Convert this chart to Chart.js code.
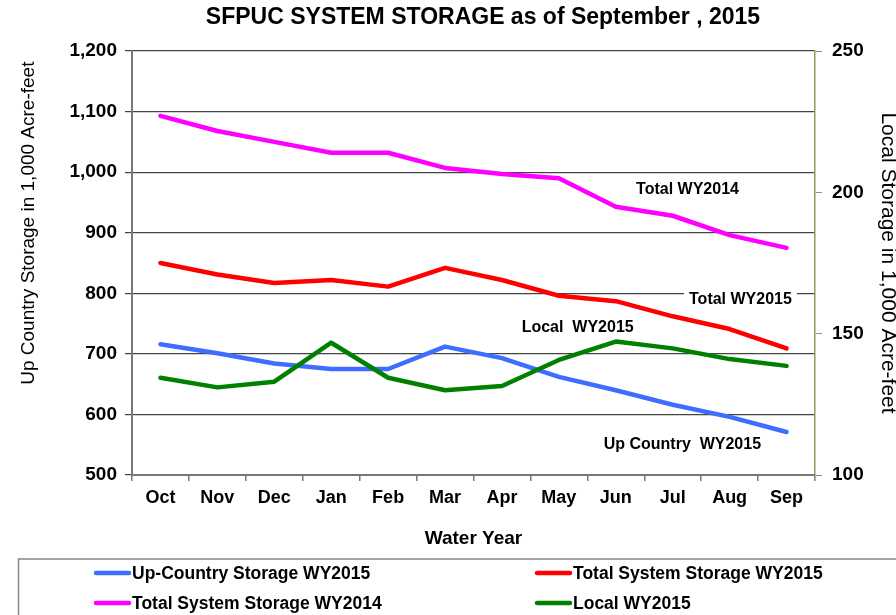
<!DOCTYPE html>
<html>
<head>
<meta charset="utf-8">
<script src="https://cdn.jsdelivr.net/npm/chart.js@4.4.0/dist/chart.umd.min.js"></script>
<style>
  html, body { margin: 0; padding: 0; background: #fff; }
  #wrap { width: 896px; height: 615px; }
</style>
</head>
<body>
<div id="wrap"><canvas id="chart" width="896" height="615"></canvas></div>
<script>
// months of the water year
const months = ['Oct', 'Nov', 'Dec', 'Jan', 'Feb', 'Mar', 'Apr', 'May', 'Jun', 'Jul', 'Aug', 'Sep'];

// storage, 1,000 acre-feet
const upCountry2015 = [716, 701, 684, 675, 675, 712, 693, 662, 640, 616, 596, 571];
const total2015     = [850, 831, 817, 822, 811, 842, 822, 796, 787, 762, 741, 709];
const total2014     = [1093, 1068, 1050, 1032, 1032, 1007, 997, 990, 943, 928, 896, 875];
const local2015     = [134.4, 131, 133, 146.8, 134.4, 130, 131.5, 140.7, 147.2, 144.8, 141, 138.6];

// axis ticks
const leftTicks  = [500, 600, 700, 800, 900, 1000, 1100, 1200];
const rightTicks = [100, 150, 200, 250];

const FONT = '"Liberation Sans", Arial, sans-serif';

// text labels drawn next to the lines
const lineNotes = [
  { text: 'Total WY2014', x: 9.26, y: 972 },
  { text: 'Total WY2015', x: 10.19, y: 790, box: true },
  { text: 'Local  WY2015', x: 7.33, y: 743 },
  { text: 'Up Country  WY2015', x: 9.17, y: 551 }
];

const legendItems = [
  { label: 'Up-Country Storage WY2015', color: '#3f6dff' },
  { label: 'Total System Storage WY2015', color: '#ff0000' },
  { label: 'Total System Storage WY2014', color: '#ff00ff' },
  { label: 'Local WY2015', color: '#008000' }
];

const extras = {
  id: 'extras',
  afterDraw(chart) {
    const ctx = chart.ctx;
    const x = chart.scales.x, y = chart.scales.y;
    ctx.save();

    // title
    ctx.fillStyle = '#000';
    ctx.font = 'bold 23px ' + FONT;
    ctx.textAlign = 'center';
    ctx.textBaseline = 'middle';
    ctx.fillText('SFPUC SYSTEM STORAGE as of September , 2015', 483, 18);

    // notes on the plot
    ctx.font = 'bold 16px ' + FONT;
    lineNotes.forEach(n => {
      const px = x.getPixelForValue(n.x);
      const py = y.getPixelForValue(n.y);
      if (n.box) {
        const w = ctx.measureText(n.text).width;
        ctx.fillStyle = '#fff';
        ctx.fillRect(px - w / 2 - 5, py - 14, w + 10, 28);
      }
      ctx.fillStyle = '#000';
      ctx.fillText(n.text, px, py);
    });

    // legend box
    ctx.strokeStyle = '#888';
    ctx.lineWidth = 1.5;
    ctx.strokeRect(18.5, 559, 900, 80);
    ctx.font = 'bold 17.5px ' + FONT;
    ctx.textAlign = 'left';
    legendItems.forEach((it, i) => {
      const col = i % 2, row = Math.floor(i / 2);
      const lx = col === 0 ? 96 : 537;
      const ly = row === 0 ? 573 : 603;
      ctx.strokeStyle = it.color;
      ctx.lineWidth = 4.5;
      ctx.lineCap = 'round';
      ctx.beginPath();
      ctx.moveTo(lx, ly);
      ctx.lineTo(lx + 33, ly);
      ctx.stroke();
      ctx.fillStyle = '#000';
      ctx.fillText(it.label, lx + 36, ly + 1);
    });
    ctx.restore();
  }
};

new Chart(document.getElementById('chart'), {
  type: 'line',
  data: {
    labels: months,
    datasets: [
      { label: legendItems[0].label, data: upCountry2015, borderColor: legendItems[0].color, yAxisID: 'y', order: 1 },
      { label: legendItems[1].label, data: total2015, borderColor: legendItems[1].color, yAxisID: 'y', order: 1 },
      { label: legendItems[2].label, data: total2014, borderColor: legendItems[2].color, yAxisID: 'y', order: 1 },
      { label: legendItems[3].label, data: local2015, borderColor: legendItems[3].color, yAxisID: 'y1', order: 0 }
    ]
  },
  options: {
    responsive: false,
    animation: false,
    layout: { padding: { top: 51, left: 0, right: 0, bottom: 60 } },
    elements: {
      line: { borderWidth: 4.5, tension: 0, borderCapStyle: 'round', borderJoinStyle: 'round' },
      point: { radius: 0 }
    },
    plugins: {
      legend: { display: false },
      tooltip: { enabled: false }
    },
    scales: {
      x: {
        offset: true,
        grid: { offset: true, drawOnChartArea: false, tickLength: 6, color: '#777', lineWidth: 1.5 },
        border: { color: '#777', width: 2 },
        ticks: { color: '#000', font: { family: FONT, size: 18, weight: 'bold' }, padding: 6, maxRotation: 0 },
        title: { display: true, text: 'Water Year', color: '#000', font: { family: FONT, size: 19, weight: 'bold' }, padding: { top: 0, bottom: 5 } },
        afterFit(s) { s.height = 80; }
      },
      y: {
        min: 500,
        max: 1200,
        afterBuildTicks(s) { s.ticks = leftTicks.map(v => ({ value: v })); },
        grid: { color: '#444', lineWidth: 1.2, tickLength: 7 },
        border: { color: '#777', width: 2 },
        ticks: {
          color: '#000',
          font: { family: FONT, size: 19, weight: 'bold' },
          padding: 8,
          callback: v => v.toLocaleString('en-US')
        },
        title: { display: true, align: 'end', text: 'Up Country Storage in 1,000 Acre-feet  ', color: '#000', font: { family: FONT, size: 19 }, padding: { top: 17, bottom: 0 } },
        afterFit(s) { s.width = 132; }
      },
      y1: {
        position: 'right',
        min: 100,
        max: 250,
        afterBuildTicks(s) { s.ticks = rightTicks.map(v => ({ value: v })); },
        grid: { drawOnChartArea: false, color: '#8da05a', tickLength: 7 },
        border: { color: '#8da05a', width: 1.5 },
        ticks: { color: '#000', font: { family: FONT, size: 19, weight: 'bold' }, padding: 10 },
        title: { display: true, text: 'Local Storage in 1,000 Acre-feet', color: '#000', font: { family: FONT, size: 21 }, padding: { top: -4, bottom: 0 } },
        afterFit(s) { s.width = 81; }
      }
    }
  },
  plugins: [extras]
});
</script>
</body>
</html>
